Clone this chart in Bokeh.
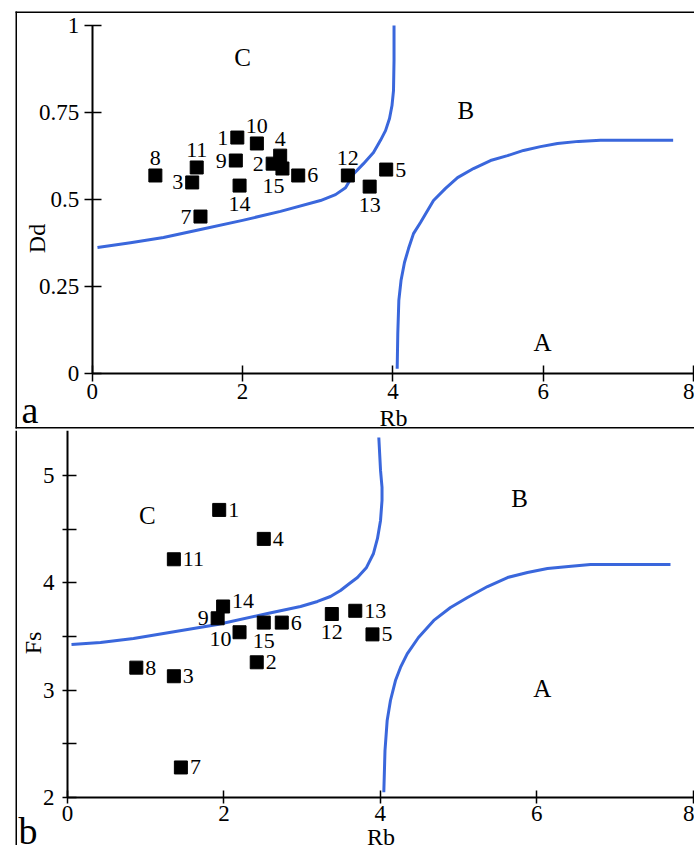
from math import pi
from bokeh.plotting import figure
from bokeh.layouts import column
from bokeh.models import (ColumnDataSource, LinearAxis, FixedTicker, NumeralTickFormatter,
                          Span, Label, Range1d)
from bokeh.core.properties import value
from bokeh.embed import file_html
from bokeh.resources import INLINE

# ---------------- data ----------------
sample_ids = [str(i) for i in range(1, 16)]

# panel a : Rb vs Dd
rb_a = [1.93, 2.40, 1.33, 2.50, 3.91, 2.74, 1.44, 0.84, 1.91, 2.19, 1.39, 3.40, 3.69, 1.96, 2.53]
dd_a = [0.678, 0.603, 0.549, 0.626, 0.586, 0.569, 0.451, 0.569, 0.612, 0.661, 0.592, 0.569, 0.537, 0.540, 0.589]

# panel b : Rb vs Fs
rb_b = [1.94, 2.42, 1.36, 2.51, 3.90, 2.74, 1.45, 0.88, 1.92, 2.20, 1.36, 3.38, 3.68, 1.99, 2.51]
fs_b = [4.68, 3.26, 3.13, 4.41, 3.52, 3.63, 2.28, 3.21, 3.67, 3.54, 4.22, 3.71, 3.74, 3.78, 3.63]

# boundary curves
curve_a_upper_rb = [0.070, 0.509, 0.948, 1.440, 1.999, 2.504, 3.036, 3.236, 3.369, 3.479, 3.608,
                    3.741, 3.834, 3.901, 3.954, 3.987, 4.007, 4.014, 4.014]
curve_a_upper_dd = [0.362, 0.376, 0.391, 0.414, 0.440, 0.466, 0.497, 0.514, 0.534, 0.574, 0.603,
                    0.635, 0.670, 0.698, 0.733, 0.770, 0.813, 0.899, 1.0]
curve_a_lower_rb = [4.056, 4.064, 4.078, 4.107, 4.153, 4.207, 4.273, 4.366, 4.539, 4.699, 4.859,
                    5.071, 5.297, 5.523, 5.736, 5.962, 6.188, 6.467, 6.760, 7.726]
curve_a_lower_dd = [0.0135, 0.114, 0.210, 0.267, 0.319, 0.359, 0.402, 0.434, 0.497, 0.532, 0.563,
                    0.589, 0.612, 0.626, 0.641, 0.652, 0.661, 0.667, 0.670, 0.670]

curve_b_upper_rb = [0.051, 0.422, 0.844, 1.381, 1.918, 2.558, 2.980, 3.197, 3.363, 3.491, 3.606,
                    3.708, 3.824, 3.913, 3.964, 4.003, 4.022, 4.022, 4.003, 3.981]
curve_b_upper_fs = [3.426, 3.445, 3.482, 3.547, 3.612, 3.715, 3.780, 3.827, 3.873, 3.929, 3.994,
                    4.050, 4.144, 4.274, 4.414, 4.582, 4.768, 4.889, 5.048, 5.355]
curve_b_lower_rb = [4.045, 4.060, 4.088, 4.130, 4.194, 4.258, 4.344, 4.488, 4.684, 4.898, 5.115,
                    5.371, 5.627, 5.882, 6.138, 6.407, 6.688, 7.711]
curve_b_lower_fs = [2.049, 2.438, 2.718, 2.904, 3.090, 3.212, 3.339, 3.491, 3.650, 3.771, 3.864,
                    3.966, 4.050, 4.097, 4.134, 4.153, 4.171, 4.171]

# region names
region_names = ["C", "B", "A"]
region_a_rb = [2.0, 4.97, 5.99]
region_a_dd = [0.908, 0.756, 0.089]
region_b_rb = [1.02, 5.78, 6.07]
region_b_fs = [4.63, 4.79, 3.02]

# ticks
rb_ticks = [0, 2, 4, 6, 8]
dd_ticks = [0, 0.25, 0.5, 0.75, 1]
fs_ticks = [2, 3, 4, 5]
fs_minor_ticks = [2.5, 3.5, 4.5]

# ---------------- styles ----------------
FONT = "Liberation Serif"
BLUE = "#3a67dc"
W = 694

place_a = ["left", "left", "left", "above", "right", "right", "left", "above", "left",
           "above", "above", "above", "below", "below", "below_left"]
place_b = ["right", "right", "right", "right", "right", "right", "right", "right", "left",
           "left_below", "right", "below", "right", "right_above", "below"]
OFFSETS = {"left": (-9, 0, "right"), "right": (9, 0, "left"), "above": (0, -17, "center"),
           "below": (0, 18, "center"), "below_left": (-9, 17, "center"),
           "left_below": (-8, 7, "right"), "right_above": (9, -5, "left")}


def label_source(xs, ys, places):
    return ColumnDataSource(dict(
        x=xs, y=ys, t=sample_ids,
        dx=[OFFSETS[p][0] for p in places],
        dy=[OFFSETS[p][1] for p in places],
        al=[OFFSETS[p][2] for p in places]))


def style_axis(ax, tin, tout, standoff, label_standoff):
    ax.axis_line_width = 2
    ax.axis_line_color = "black"
    ax.major_tick_in = tin
    ax.major_tick_out = tout
    ax.minor_tick_in = tin
    ax.minor_tick_out = tout
    ax.major_tick_line_width = 1.5
    ax.minor_tick_line_width = 1.5
    ax.major_label_text_font = FONT
    ax.major_label_text_font_size = "23px"
    ax.major_label_text_color = "black"
    ax.major_label_standoff = standoff
    ax.axis_label_text_font = FONT
    ax.axis_label_text_font_style = "normal"
    ax.axis_label_text_font_size = "24px"
    ax.axis_label_text_color = "black"
    ax.axis_label_standoff = label_standoff


def base_fig(height, xr, yr, mb):
    p = figure(width=W, height=height, x_range=Range1d(*xr), y_range=Range1d(*yr),
               output_backend="svg", toolbar_location=None,
               x_axis_location=None, y_axis_location=None,
               min_border_left=15, min_border_right=0,
               min_border_top=mb[0], min_border_bottom=mb[1])
    p.grid.visible = False
    p.outline_line_color = None
    p.background_fill_color = "white"
    p.border_fill_color = "white"
    return p


# ---------------- panel a ----------------
xa_range = (-1.02, 8.01)
ya_range = (-0.158, 1.0402)
pa = base_fig(430, xa_range, ya_range, (11, 2))

ay = LinearAxis(fixed_location=0, bounds=(0, 1), ticker=FixedTicker(ticks=dd_ticks, minor_ticks=[]),
                formatter=NumeralTickFormatter(format="0.[00]"))
style_axis(ay, 9, 8, 5, 0)
pa.add_layout(ay, "left")
ax = LinearAxis(fixed_location=0, bounds=(0, xa_range[1]),
                ticker=FixedTicker(ticks=rb_ticks, minor_ticks=[]), axis_label="Rb")
style_axis(ax, 8, 8, 2, 3)
pa.add_layout(ax, "below")

for loc, dim in [(ya_range[1], "width"), (ya_range[0], "width"), (xa_range[0], "height")]:
    pa.add_layout(Span(location=loc, dimension=dim, line_color="black", line_width=3,
                       line_cap="square", level="overlay"))

pa.line(curve_a_upper_rb, curve_a_upper_dd, line_color=BLUE, line_width=3, line_join="round")
pa.line(curve_a_lower_rb, curve_a_lower_dd, line_color=BLUE, line_width=3, line_join="round")
pa.scatter(rb_a, dd_a, marker="square", size=13, fill_color="black", line_color="black")
pa.text("x", "y", text="t", x_offset="dx", y_offset="dy", text_align="al",
        text_baseline="middle", text_font=value(FONT), text_font_size="22px",
        text_color="black", source=label_source(rb_a, dd_a, place_a))
pa.text(region_a_rb, region_a_dd, text=region_names, text_align="center", text_baseline="middle",
        text_font=value(FONT), text_font_size="25px", text_color="black")
pa.add_layout(Label(x=-0.73, y=0.388, text="Dd", angle=pi / 2, text_align="center",
                    text_baseline="middle", text_font=FONT, text_font_size="24px",
                    text_color="black"))
pa.add_layout(Label(x=-0.94, y=-0.106, text="a", text_align="left", text_baseline="middle",
                    text_font=FONT, text_font_size="38px", text_color="black"))

# ---------------- panel b ----------------
xb_range = (-0.665, 8.018)
yb_range = (1.5527, 5.420)
pb = base_fig(415, xb_range, yb_range, (0, 0))

by = LinearAxis(fixed_location=0, bounds=(2, yb_range[1]),
                ticker=FixedTicker(ticks=fs_ticks, minor_ticks=fs_minor_ticks))
style_axis(by, 9, 5, 8, 0)
pb.add_layout(by, "left")
bx = LinearAxis(fixed_location=2, bounds=(0, xb_range[1]),
                ticker=FixedTicker(ticks=rb_ticks, minor_ticks=[]), axis_label="Rb")
style_axis(bx, 7, 6, 2, 0)
pb.add_layout(bx, "below")

pb.add_layout(Span(location=xb_range[0], dimension="height", line_color="black", line_width=3,
                   level="overlay"))

pb.line(curve_b_upper_rb, curve_b_upper_fs, line_color=BLUE, line_width=3, line_join="round")
pb.line(curve_b_lower_rb, curve_b_lower_fs, line_color=BLUE, line_width=3, line_join="round")
pb.scatter(rb_b, fs_b, marker="square", size=13, fill_color="black", line_color="black")
pb.text("x", "y", text="t", x_offset="dx", y_offset="dy", text_align="al",
        text_baseline="middle", text_font=value(FONT), text_font_size="22px",
        text_color="black", source=label_source(rb_b, fs_b, place_b))
pb.text(region_b_rb, region_b_fs, text=region_names, text_align="center", text_baseline="middle",
        text_font=value(FONT), text_font_size="25px", text_color="black")
pb.add_layout(Label(x=-0.435, y=3.44, text="Fs", angle=pi / 2, text_align="center",
                    text_baseline="middle", text_font=FONT, text_font_size="24px",
                    text_color="black"))
pb.add_layout(Label(x=-0.627, y=1.692, text="b", text_align="left", text_baseline="middle",
                    text_font=FONT, text_font_size="38px", text_color="black"))

layout = column(pa, pb, spacing=0)
open("out.html", "w").write(file_html(layout, INLINE))
